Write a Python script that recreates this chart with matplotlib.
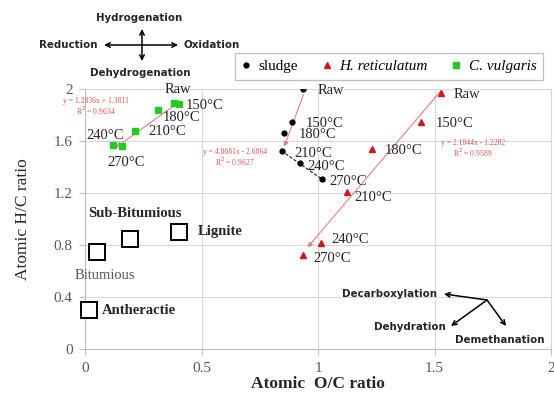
import matplotlib
matplotlib.use("Agg")
import matplotlib.pyplot as plt
import numpy as np

# ---- data ----
temps = ["Raw", "150°C", "180°C", "210°C", "240°C", "270°C"]

sludge_oc = [0.934, 0.887, 0.853, 0.844, 0.921, 1.016]
sludge_hc = [2.000, 1.746, 1.662, 1.523, 1.431, 1.308]

hret_oc = [1.526, 1.440, 1.230, 1.123, 1.012, 0.934]
hret_hc = [1.969, 1.746, 1.538, 1.208, 0.815, 0.723]

cvul_oc = [0.381, 0.403, 0.313, 0.214, 0.120, 0.159]
cvul_hc = [1.892, 1.885, 1.838, 1.677, 1.569, 1.562]

coal_names = ["Bitumious", "Sub-Bitumious", "Lignite", "Antheractie"]
coal_oc = [0.051, 0.193, 0.403, 0.017]
coal_hc = [0.746, 0.846, 0.900, 0.300]

# linear fits (slope, intercept, R^2)
fit_sludge = (4.8681, -2.6064, 0.9627)
fit_hret = (2.1044, -1.2282, 0.9589)
fit_cvul = (1.2836, 1.3811, 0.9634)

xticks = [0, 0.5, 1, 1.5, 2]
yticks = [0, 0.4, 0.8, 1.2, 1.6, 2]

SERIF = "Liberation Serif"
SANS = "DejaVu Sans"
W, H = 554, 397

fig = plt.figure(figsize=(W / 100, H / 100), dpi=100)
ax = fig.add_axes([85 / W, 1 - 349 / H, 466 / W, 260 / H])
ax.set_xlim(0, 2)
ax.set_ylim(0, 2)
ax.set_xticks(xticks)
ax.set_yticks(yticks)
ax.set_xticklabels([f"{v:g}" for v in xticks])
ax.set_yticklabels([f"{v:g}" for v in yticks])
ax.grid(True, color="#d9d9d9", lw=0.8)
ax.set_axisbelow(True)
for s in ax.spines.values():
    s.set_color("#d9d9d9")
    s.set_linewidth(0.8)
ax.spines["left"].set_color("#bfbfbf")
ax.spines["bottom"].set_color("#bfbfbf")
ax.tick_params(length=4, color="#bfbfbf", labelcolor="#595959", labelsize=11, pad=5)
for lab in ax.get_xticklabels() + ax.get_yticklabels():
    lab.set_fontfamily(SERIF)

ax.set_xlabel("Atomic  O/C ratio", fontfamily=SERIF, fontsize=12.5,
              fontweight="bold", color="#262626", labelpad=1)
ax.set_ylabel("Atomic H/C ratio", fontfamily=SERIF, fontsize=12.5,
              color="#262626", labelpad=16)

LINE_RED = "#e58080"


def fit_arrow(fit, x0, x1, color=LINE_RED):
    m, b, _ = fit
    ax.annotate("", xy=(x1, m * x1 + b), xytext=(x0, m * x0 + b),
                arrowprops=dict(arrowstyle="-|>", color=color, lw=0.8,
                                mutation_scale=7, shrinkA=0, shrinkB=0),
                zorder=2)


# trend lines
fit_arrow(fit_cvul, 0.41, 0.135)
fit_arrow(fit_sludge, 0.938, 0.855)
fit_arrow(fit_hret, 1.53, 0.955)
# dotted path of the later sludge stages
dx = sludge_oc[-1] - sludge_oc[3]
dy = sludge_hc[-1] - sludge_hc[3]
ax.annotate("", xy=(sludge_oc[-1] + 0.12 * dx, sludge_hc[-1] + 0.12 * dy),
            xytext=(sludge_oc[3], sludge_hc[3]),
            arrowprops=dict(arrowstyle="-|>", color="#333333", lw=0.9,
                            ls=(0, (2, 2)), mutation_scale=7,
                            shrinkA=0, shrinkB=0), zorder=2)

# series
ax.plot(sludge_oc, sludge_hc, "o", color="black", ms=3.5, ls="none",
        zorder=4, label="sludge")
ax.plot(hret_oc, hret_hc, "^", color="#d01818", ms=5, ls="none",
        zorder=4, label="H. reticulatum")
ax.plot(cvul_oc, cvul_hc, "s", color="#22cc22", ms=4, ls="none",
        zorder=4, label="C. vulgaris")

# coal reference squares
ax.plot(coal_oc, coal_hc, "s", mfc="white", mec="black", mew=1.4, ms=12,
        ls="none", zorder=3, clip_on=False)


def px(dxp, dyp):
    # pixel offset -> points (down is positive in pixels)
    return (dxp * 0.72, -dyp * 0.72)


tcol = "#262626"
tk = dict(fontfamily=SERIF, fontsize=10.5, color=tcol, va="center",
          textcoords="offset points", zorder=5)

sludge_off = [(15, 2), (14, 1), (15, 2), (13, 2), (8, 4), (8, 3)]
hret_off = [(13, 1), (15, 1), (13, 1), (8, 6), (11, -4), (11, 3)]
cvul_off = [(-9, -14), (7, 2), (5, 7), (14, 1), (-27, -10), (-15, 17)]

for i, t in enumerate(temps):
    ax.annotate(t, (sludge_oc[i], sludge_hc[i]), xytext=px(*sludge_off[i]), **tk)
    ax.annotate(t, (hret_oc[i], hret_hc[i]), xytext=px(*hret_off[i]), **tk)
    ax.annotate(t, (cvul_oc[i], cvul_hc[i]), xytext=px(*cvul_off[i]), **tk)

# coal labels
coal_off = [(-22, 23), (-42, -26), (19, 0), (13, 1)]
coal_bold = [False, True, True, True]
coal_col = ["#595959", tcol, tcol, tcol]
for i, n in enumerate(coal_names):
    ax.annotate(n, (coal_oc[i], coal_hc[i]), xytext=px(*coal_off[i]),
                textcoords="offset points", fontfamily=SERIF, fontsize=10.5,
                fontweight="bold" if coal_bold[i] else "normal",
                color=coal_col[i], va="center")


def fit_text(fit, xpix, ypix, sign):
    m, b, r2 = fit
    eq = f"y = {m:.4f}x {sign} {abs(b):.4f}"
    fig.text(xpix / W, 1 - ypix / H, eq, fontsize=5.5, color="#e05050",
             ha="center", va="center", fontfamily=SERIF, zorder=6)
    fig.text(xpix / W, 1 - (ypix + 10) / H, f"R$^2$ = {r2:.4f}", fontsize=5.5,
             color="#e05050", ha="center", va="center", fontfamily=SERIF,
             zorder=6)


fit_text(fit_cvul, 96, 101, "+")
fit_text(fit_sludge, 235, 152, "-")
fit_text(fit_hret, 473, 143, "-")

# legend above the plot
leg = ax.legend(loc="center", bbox_to_anchor=((233 + 545) / 2 / W, 1 - 66.5 / H),
                bbox_transform=fig.transFigure, ncol=3, frameon=True,
                fancybox=False, edgecolor="#bfbfbf", framealpha=1,
                handlelength=0.6, handletextpad=0.5, columnspacing=1.6,
                borderpad=0.45, prop={"family": SERIF, "size": 11})
for txt in leg.get_texts()[1:]:
    txt.set_fontstyle("italic")
leg.get_frame().set_linewidth(0.9)

# reaction direction cross (top left)
bold_sans = dict(fontfamily=SANS, fontsize=7.4, fontweight="bold",
                 color="#262626", va="center")
for tip, tail in [((178, 45), (104, 45)), ((142, 61), (142, 29))]:
    plt.annotate("", xy=(tip[0] / W, 1 - tip[1] / H),
                 xytext=(tail[0] / W, 1 - tail[1] / H),
                 xycoords="figure fraction", textcoords="figure fraction",
                 arrowprops=dict(arrowstyle="<->", color="black", lw=1.1,
                                 mutation_scale=8, shrinkA=0, shrinkB=0),
                 annotation_clip=False)
fig.text(139 / W, 1 - 18 / H, "Hydrogenation", ha="center", **bold_sans)
fig.text(140 / W, 1 - 73 / H, "Dehydrogenation", ha="center", **bold_sans)
fig.text(97 / W, 1 - 45 / H, "Reduction", ha="right", **bold_sans)
fig.text(183 / W, 1 - 45 / H, "Oxidation", ha="left", **bold_sans)

# reaction pathway arrows (bottom right)
origin = (487 / W, 1 - 300 / H)
for tip in [(444, 294), (451, 326), (506, 326)]:
    plt.annotate("", xy=(tip[0] / W, 1 - tip[1] / H), xytext=origin,
                 xycoords="figure fraction", textcoords="figure fraction",
                 arrowprops=dict(arrowstyle="->", color="black", lw=1.1,
                                 mutation_scale=8, shrinkA=0, shrinkB=0),
                 annotation_clip=False)
fig.text(437 / W, 1 - 294 / H, "Decarboxylation", ha="right", **bold_sans)
fig.text(446 / W, 1 - 327 / H, "Dehydration", ha="right", **bold_sans)
fig.text(455 / W, 1 - 340 / H, "Demethanation", ha="left", **bold_sans)

fig.savefig("out.png", dpi=100)
